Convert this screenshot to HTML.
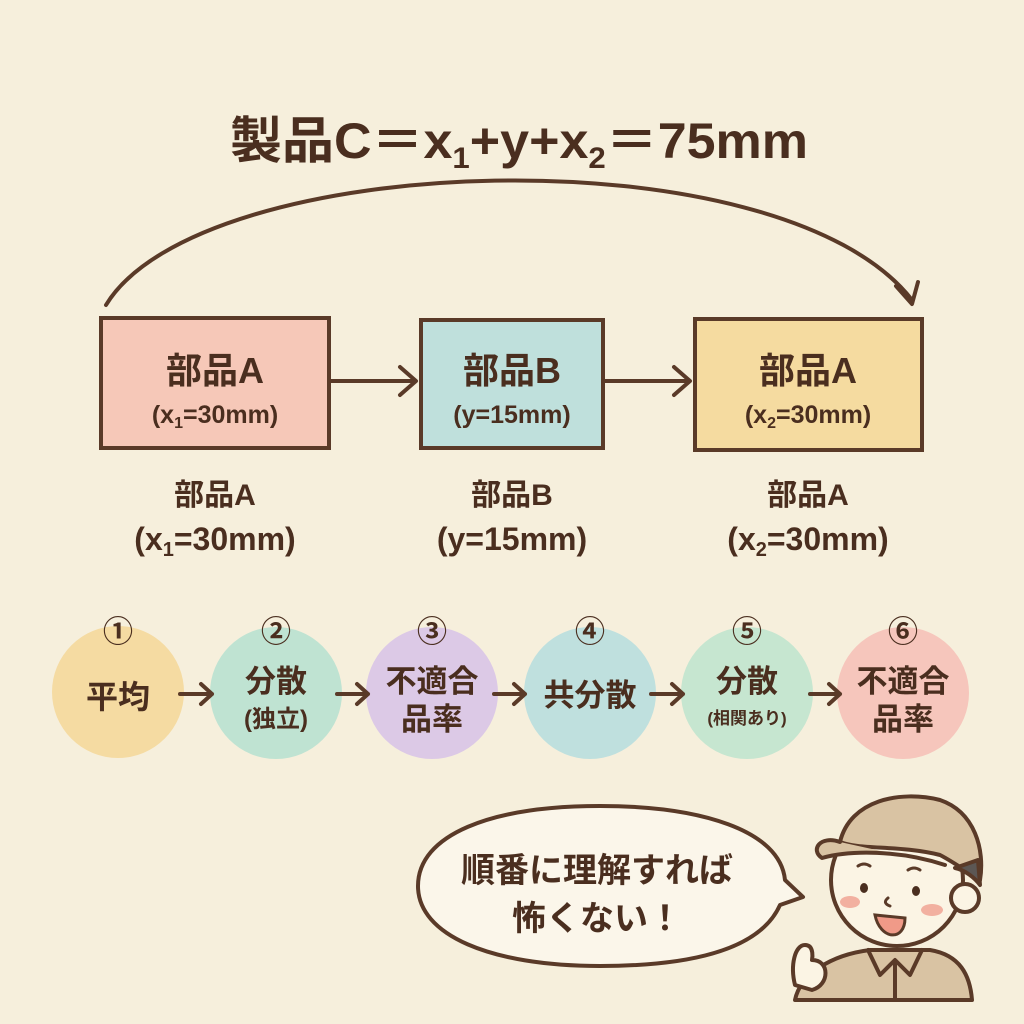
<!DOCTYPE html>
<html><head><meta charset="utf-8"><style>
html,body{margin:0;padding:0;background:#f6efdc;}
svg{display:block}
text{font-family:"Liberation Sans","Noto Sans CJK JP",sans-serif;fill:#4a2e1f;font-weight:bold}
</style></head><body>
<svg width="1024" height="1024" viewBox="0 0 1024 1024" xmlns="http://www.w3.org/2000/svg">
<rect width="1024" height="1024" fill="#f6efdc"/>
<!-- title -->
<text x="230" y="158" font-size="50" textLength="578" lengthAdjust="spacingAndGlyphs">製品C＝x<tspan font-size="30" dy="10">1</tspan><tspan dy="-10">+y+x</tspan><tspan font-size="30" dy="10">2</tspan><tspan dy="-10">＝75mm</tspan></text>
<!-- big arc -->
<path d="M106,305 C200,150 780,130 912,300" fill="none" stroke="#5a3a28" stroke-width="4" stroke-linecap="round"/>
<path d="M896,286 L912,304 L918,282" fill="none" stroke="#5a3a28" stroke-width="4" stroke-linecap="round" stroke-linejoin="round"/>
<!-- boxes -->
<g stroke="#5a3a28" stroke-width="4">
<rect x="101" y="318" width="228" height="130" fill="#f6c8b8"/>
<rect x="421" y="320" width="182" height="128" fill="#bfe0dc"/>
<rect x="695" y="319" width="227" height="131" fill="#f5dba0"/>
</g>
<g stroke="#5a3a28" stroke-width="4" fill="none" stroke-linecap="round" stroke-linejoin="round">
<path d="M331,381 L415,381 M400,367 L416,381 L400,395"/>
<path d="M605,381 L688,381 M674,367 L690,381 L674,395"/>
</g>
<g text-anchor="middle">
<text x="215" y="383" font-size="36">部品A</text>
<text x="215" y="423" font-size="25" font-weight="normal">(x<tspan font-size="16" dy="5">1</tspan><tspan dy="-5">=30mm)</tspan></text>
<text x="512" y="383" font-size="36">部品B</text>
<text x="512" y="423" font-size="25" font-weight="normal">(y=15mm)</text>
<text x="808" y="383" font-size="36">部品A</text>
<text x="808" y="423" font-size="25" font-weight="normal">(x<tspan font-size="16" dy="5">2</tspan><tspan dy="-5">=30mm)</tspan></text>
<text x="215" y="505" font-size="30" font-weight="normal">部品A</text>
<text x="215" y="550" font-size="32" font-weight="normal">(x<tspan font-size="20" dy="6">1</tspan><tspan dy="-6">=30mm)</tspan></text>
<text x="512" y="505" font-size="30" font-weight="normal">部品B</text>
<text x="512" y="550" font-size="32" font-weight="normal">(y=15mm)</text>
<text x="808" y="505" font-size="30" font-weight="normal">部品A</text>
<text x="808" y="550" font-size="32" font-weight="normal">(x<tspan font-size="20" dy="6">2</tspan><tspan dy="-6">=30mm)</tspan></text>
</g>
<!-- circles -->
<circle cx="118" cy="692" r="66" fill="#f5dba2"/>
<circle cx="276" cy="693" r="66" fill="#bfe3d2"/>
<circle cx="432" cy="693" r="66" fill="#dcc9e6"/>
<circle cx="590" cy="693" r="66" fill="#bfe0de"/>
<circle cx="747" cy="693" r="66" fill="#c6e6d0"/>
<circle cx="903" cy="693" r="66" fill="#f6c6bc"/>
<g text-anchor="middle">
<text x="118" y="642" font-size="30" font-weight="normal">①</text>
<text x="276" y="642" font-size="30" font-weight="normal">②</text>
<text x="432" y="642" font-size="30" font-weight="normal">③</text>
<text x="590" y="642" font-size="30" font-weight="normal">④</text>
<text x="747" y="642" font-size="30" font-weight="normal">⑤</text>
<text x="903" y="642" font-size="30" font-weight="normal">⑥</text>
<text x="118" y="708" font-size="32">平均</text>
<text x="276" y="692" font-size="31">分散</text>
<text x="276" y="727" font-size="24">(独立)</text>
<text x="432" y="692" font-size="31">不適合</text>
<text x="432" y="730" font-size="31">品率</text>
<text x="590" y="706" font-size="31">共分散</text>
<text x="747" y="692" font-size="31">分散</text>
<text x="747" y="724" font-size="17">(相関あり)</text>
<text x="903" y="692" font-size="31">不適合</text>
<text x="903" y="730" font-size="31">品率</text>
</g>
<g stroke="#5a3a28" stroke-width="4" fill="none" stroke-linecap="round" stroke-linejoin="round">
<path d="M180,694 L212,694 M201,684 L212,694 L201,704"/>
<path d="M337,694 L368,694 M357,684 L368,694 L357,704"/>
<path d="M494,694 L525,694 M514,684 L525,694 L514,704"/>
<path d="M651,694 L683,694 M672,684 L683,694 L672,704"/>
<path d="M810,694 L840,694 M829,684 L840,694 L829,704"/>
</g>
<!-- bubble -->
<path d="M600,806 C700,806 780,830 785,880 L803,897 L780,905 C760,950 690,966 600,966 C490,966 418,935 418,886 C418,835 490,806 600,806 Z" fill="#fbf6ea" stroke="#5a3a28" stroke-width="4" stroke-linejoin="round"/>
<g text-anchor="middle">
<text x="597" y="882" font-size="34">順番に理解すれば</text>
<text x="597" y="930" font-size="34">怖くない！</text>
</g>
<!-- character -->
<g stroke="#5a3a28" stroke-width="4" stroke-linecap="round" stroke-linejoin="round">
<path d="M795,1000 C800,975 830,955 870,950 L930,950 C960,955 970,975 972,1000 Z" fill="#d9c3a3"/>
<path d="M868,950 L880,975 L895,960 L910,975 L922,950" fill="none"/>
<path d="M895,962 L895,1000" fill="none"/>
<circle cx="897" cy="880" r="66" fill="#fbf4e4"/>
<circle cx="965" cy="898" r="14" fill="#fbf4e4"/>
<path d="M840,842 C850,800 900,790 940,800 C975,812 985,850 980,880 C965,870 950,860 940,855 C900,845 860,850 840,842 Z" fill="#d9c3a3"/>
<path d="M955,868 C965,870 975,878 980,885 L978,860 Z" fill="#5c5754"/>
<path d="M840,842 C820,835 810,850 822,858 C850,850 900,850 945,865" fill="#d9c3a3"/>
<path d="M795,985 C790,965 795,945 805,945 C815,945 812,960 812,960 C830,960 830,985 812,990 Z" fill="#fbf4e4"/>
</g>
<g fill="#4a2e1f">
<ellipse cx="864" cy="888" rx="4" ry="5"/>
<ellipse cx="916" cy="891" rx="4" ry="5"/>
</g>
<ellipse cx="850" cy="902" rx="10" ry="6" fill="#f2b0a0"/>
<ellipse cx="932" cy="910" rx="11" ry="6" fill="#f2b0a0"/>
<path d="M875,915 C880,940 905,942 905,918 Z" fill="#f09a88" stroke="#5a3a28" stroke-width="3"/>
<path d="M858,866 Q864,862 870,866 M908,870 Q914,866 920,870 M888,898 Q882,903 890,906" fill="none" stroke="#5a3a28" stroke-width="3" stroke-linecap="round"/>
</svg>
</body></html>
